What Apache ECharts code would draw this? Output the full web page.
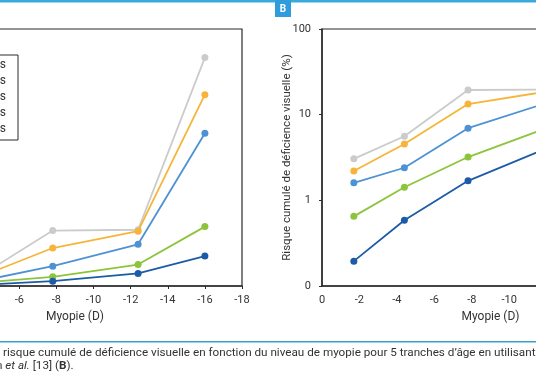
<!DOCTYPE html>
<html>
<head>
<meta charset="utf-8">
<script src="https://cdn.jsdelivr.net/npm/echarts@6/dist/echarts.min.js"></script>
<style>html,body{margin:0;padding:0;background:#fff}#c{width:536px;height:386px}</style>
</head>
<body>
<div id="c"></div>
<script>
// Myopia level (D) of each point
const myopia = [-1.7, -4.4, -7.8, -12.4, -16];
// Age groups (legend)
const ageGroups = ['55 ans', '60 ans', '65 ans', '70 ans', '75 ans'];
// Cumulative risk of visual impairment (%)
const risk55 = [0.195, 0.585, 1.69, 4.4, 10.5];
const risk60 = [0.65, 1.42, 3.2, 7.5, 20.8];
const risk65 = [1.6, 2.4, 6.95, 14.6, 53.5];
const risk70 = [2.2, 4.55, 13.3, 19.2, 67];
const risk75 = [3.05, 5.6, 19.4, 19.7, 80];
// Tick labels
const xTicksMin = -18, xTicksMax = 0, xTickStep = 2;
const yLinMax = 90;
const yLogMin = 0.1, yLogMax = 100;

const seriesValues = [risk75, risk70, risk65, risk60, risk55];
const seriesNames = [ageGroups[4], ageGroups[3], ageGroups[2], ageGroups[1], ageGroups[0]];
const colors = ['#cbcbcb', '#f6b53a', '#4e92d4', '#8cc43c', '#1c5ba6'];

const FONT = 'Roboto';
const axisCol = '#2b2b2b';

function pairs(vals) { return myopia.map((x, i) => [x, vals[i]]); }

const series = [];
[0, 1].forEach(g => {
  seriesValues.forEach((vals, k) => {
    series.push({
      type: 'line', name: seriesNames[k], xAxisIndex: g, yAxisIndex: g,
      data: pairs(vals), symbol: 'circle', symbolSize: 7,
      lineStyle: { color: colors[k], width: 1.8 },
      itemStyle: { color: colors[k] }, emphasis: { disabled: true }, z: 3 + k
    });
  });
});

const xAxisCommon = {
  type: 'value', inverse: true, min: xTicksMin, max: xTicksMax, interval: xTickStep,
  name: 'Myopie (D)', nameLocation: 'middle', nameGap: 25,
  nameTextStyle: { fontFamily: FONT, fontSize: 12, color: '#333' },
  axisLine: { lineStyle: { color: axisCol, width: 1.5 } },
  axisLabel: { fontFamily: FONT, fontSize: 11, color: '#333', margin: 9 },
  splitLine: { show: false }
};

const option = {
  animation: false,
  grid: [
    { left: -92, width: 334, top: 29, height: 257, show: true, borderColor: axisCol, borderWidth: 1.2,
      containLabel: false, outerBoundsMode: 'none' },
    { left: 322, width: 337, top: 29, height: 257, show: true, borderColor: axisCol, borderWidth: 1.2,
      containLabel: false, outerBoundsMode: 'none' }
  ],
  xAxis: [
    Object.assign({}, xAxisCommon, { gridIndex: 0, axisTick: { show: true, length: 3, lineStyle: { color: axisCol } } }),
    Object.assign({}, xAxisCommon, { gridIndex: 1, axisTick: { show: false } })
  ],
  yAxis: [
    { type: 'value', gridIndex: 0, min: 0, max: yLinMax, interval: 10,
      axisLine: { show: true, lineStyle: { color: axisCol, width: 1.5 } },
      axisLabel: { fontFamily: FONT, fontSize: 11, color: '#333' }, splitLine: { show: false } },
    { type: 'log', logBase: 10, gridIndex: 1, min: yLogMin, max: yLogMax,
      name: 'Risque cumulé de déficience visuelle (%)', nameLocation: 'middle', nameGap: 29,
      nameMoveOverlap: false,
      nameTextStyle: { fontFamily: FONT, fontSize: 11.5, color: '#333' },
      axisLine: { show: true, lineStyle: { color: axisCol, width: 1.5 } },
      axisTick: { show: true, length: 3, lineStyle: { color: axisCol } },
      axisLabel: { fontFamily: FONT, fontSize: 11, color: '#333', margin: 11,
        formatter: v => (v < 1 ? '0' : String(Math.round(v))) },
      splitLine: { show: false }, minorTick: { show: false } }
  ],
  legend: {
    orient: 'vertical', right: 518, top: 55,
    data: ageGroups.slice(),
    backgroundColor: '#fff', borderColor: axisCol, borderWidth: 1,
    padding: [4, 12, 5, 6], itemGap: 4, itemHeight: 14, itemWidth: 20,
    textStyle: { fontFamily: FONT, fontSize: 12, color: '#333' }
  },
  series: series,
  graphic: [
    { type: 'rect', shape: { x: 0, y: 0, width: 536, height: 2.5 }, style: { fill: '#3aa9dc' }, z: 10 },
    { type: 'rect', shape: { x: 275, y: 0, width: 16, height: 17 }, style: { fill: '#2f9ddb' }, z: 11 },
    { type: 'text', x: 283, y: 9, style: { text: 'B', fill: '#fff', fontFamily: FONT, fontWeight: 'bold', fontSize: 10, align: 'center', verticalAlign: 'middle' }, z: 12 },
    { type: 'rect', shape: { x: 0, y: 341, width: 536, height: 1.6 }, style: { fill: '#3a9fcb' }, z: 10 },
    { type: 'text', x: 3, y: 353, style: { text: 'risque cumulé de déficience visuelle en fonction du niveau de myopie pour 5 tranches d\u2019âge en utilisant', fill: '#333', fontFamily: FONT, fontSize: 11.7, verticalAlign: 'middle' }, z: 10 },
    { type: 'text', x: -4, y: 366, style: {
        text: '{n|n }{i|et al.}{n| [13] (}{b|B}{n|).}',
        verticalAlign: 'middle',
        rich: {
          n: { fill: '#333', fontFamily: FONT, fontSize: 11.7 },
          i: { fill: '#333', fontFamily: FONT, fontSize: 11.7, fontStyle: 'italic' },
          b: { fill: '#333', fontFamily: FONT, fontSize: 11.7, fontWeight: 'bold' }
        } }, z: 10 }
  ]
};

const chart = echarts.init(document.getElementById('c'), null, { renderer: 'canvas' });
chart.setOption(option);
</script>
</body>
</html>
